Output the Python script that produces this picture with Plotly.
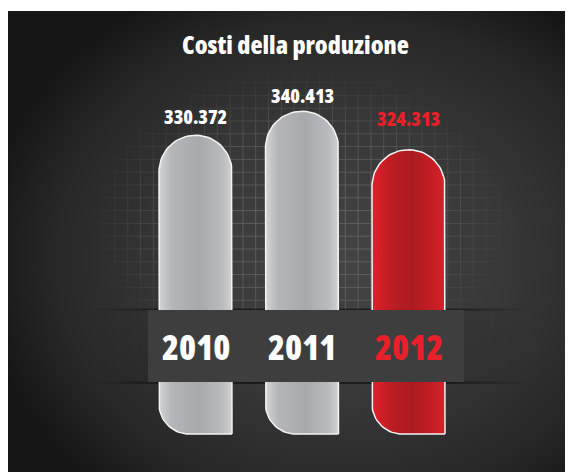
import base64
import numpy as np
import plotly.graph_objects as go

# ---------------- data ----------------
years = ["2010", "2011", "2012"]
costs = [330.372, 340.413, 324.313]
cost_labels = ["330.372", "340.413", "324.313"]

# ---------------- style ----------------
W, H = 573, 472
FONT = "Open Sans"
WEIGHT = 800
WHITE = "#ffffff"
RED = "#e8202a"
label_colors = [WHITE, WHITE, RED]
gray_grad = [[0, "#d3d4d6"], [0.18, "#b4b5b8"], [0.55, "#a8a9ac"], [0.86, "#b9babd"], [1, "#d0d1d3"]]
red_grad = [[0, "#e2202a"], [0.3, "#b91d23"], [0.55, "#ac1b20"], [0.86, "#c71e25"], [1, "#d8222a"]]
bar_grads = [gray_grad, gray_grad, red_grad]
label_lift = [19, 16, 31]       # px between bar top and label centre


def cond(t):
    return f"<span style='font-stretch:75%'>{t}</span>"


# axis scales (pixels per unit) and ranges (figure pixels)
PX_X = 106.5
X0 = -187.5 / PX_X
X1 = X0 + W / PX_X
PX_Y = 2.389
Y1 = 331.699 + 124 / PX_Y
Y0 = Y1 - H / PX_Y
BASE = Y1 - 426 / PX_Y          # bar baseline (pixel row 426)
HALF = 36.5 / PX_X              # half bar width
R_TOP_Y = 36.5 / PX_Y
R_BL = 30.0                     # bottom-left corner radius (px)

# ---------------- background (decoration) ----------------
svg = f"""<svg xmlns='http://www.w3.org/2000/svg' width='{W}' height='{H}' viewBox='0 0 {W} {H}'>
<defs>
<radialGradient id='bg' cx='332' cy='252' r='360' gradientUnits='userSpaceOnUse'
 gradientTransform='translate(332 252) scale(1 0.84) translate(-332 -252)'>
<stop offset='0' stop-color='#444444'/>
<stop offset='0.45' stop-color='#383838'/>
<stop offset='0.8' stop-color='#272727'/>
<stop offset='1' stop-color='#161616'/>
</radialGradient>
<pattern id='grid' x='4' y='10.1' width='12.8' height='12.8' patternUnits='userSpaceOnUse'>
<path d='M0 0.5 H12.8 M0.5 0 V12.8' stroke='#ffffff' stroke-opacity='0.18' stroke-width='1' fill='none'/>
</pattern>
<radialGradient id='fade' cx='294' cy='212' r='215' gradientUnits='userSpaceOnUse'
 gradientTransform='translate(294 212) scale(1 0.72) translate(-294 -212)'>
<stop offset='0' stop-color='#fff' stop-opacity='1'/>
<stop offset='0.6' stop-color='#fff' stop-opacity='0.75'/>
<stop offset='1' stop-color='#fff' stop-opacity='0'/>
</radialGradient>
<mask id='m'><rect x='0' y='0' width='{W}' height='302' fill='url(#fade)'/></mask>
<linearGradient id='sh' x1='82' x2='522' y1='0' y2='0' gradientUnits='userSpaceOnUse'>
<stop offset='0' stop-color='#000' stop-opacity='0'/>
<stop offset='0.2' stop-color='#000' stop-opacity='0.5'/>
<stop offset='0.8' stop-color='#000' stop-opacity='0.5'/>
<stop offset='1' stop-color='#000' stop-opacity='0'/>
</linearGradient>
<linearGradient id='sh2' x1='82' x2='522' y1='0' y2='0' gradientUnits='userSpaceOnUse'>
<stop offset='0' stop-color='#000' stop-opacity='0'/>
<stop offset='0.2' stop-color='#000' stop-opacity='0.1'/>
<stop offset='0.8' stop-color='#000' stop-opacity='0.1'/>
<stop offset='1' stop-color='#000' stop-opacity='0'/>
</linearGradient>
</defs>
<rect width='{W}' height='{H}' fill='#ffffff'/>
<rect x='0' y='3' width='{W}' height='{H-3}' fill='url(#bg)'/>
<rect x='0' y='3' width='{W}' height='{H-3}' fill='url(#grid)' mask='url(#m)'/>
<rect x='82' y='301' width='440' height='74' fill='url(#sh2)'/>
<rect x='82' y='300.5' width='440' height='2' fill='url(#sh)'/>
<rect x='82' y='373.5' width='440' height='2.5' fill='url(#sh)'/>
</svg>"""
bg_uri = "data:image/svg+xml;base64," + base64.b64encode(svg.encode()).decode()

fig = go.Figure()

# ---------------- bars (rounded capsules drawn on the data axes) ----------------
for i, (yr, v) in enumerate(zip(years, costs)):
    xc = i
    yc = v - R_TOP_Y
    t = np.linspace(0, np.pi, 40)
    top_x = xc + HALF * np.cos(t)
    top_y = yc + R_TOP_Y * np.sin(t)
    rbx = R_BL / PX_X
    rby = R_BL / PX_Y
    s = np.linspace(np.pi, 1.5 * np.pi, 20)
    bl_x = (xc - HALF + rbx) + rbx * np.cos(s)
    bl_y = (BASE + rby) + rby * np.sin(s)
    xs = np.concatenate([[xc + HALF], top_x, bl_x, [xc + HALF]])
    ys = np.concatenate([[BASE], top_y, bl_y, [BASE]])
    fig.add_trace(go.Scatter(
        x=xs, y=ys, mode="lines", fill="toself",
        fillgradient=dict(type="horizontal", colorscale=bar_grads[i]),
        line=dict(color="#f4f4f4", width=1.5),
        hoverinfo="skip", showlegend=False, name=yr,
    ))

# value labels
for i, (v, lab) in enumerate(zip(costs, cost_labels)):
    fig.add_annotation(
        x=i, y=v, text=cond(lab), showarrow=False, yanchor="middle", yshift=label_lift[i],
        font=dict(family=FONT, size=19.5, color=label_colors[i], weight=WEIGHT),
    )

# band with years
fig.add_shape(type="rect", xref="paper", yref="paper",
              x0=140 / W, x1=456 / W, y0=1 - 374 / H, y1=1 - 302 / H,
              fillcolor="#3e3e3e", line=dict(width=0), layer="above")
for i, yr in enumerate(years):
    fig.add_annotation(
        x=i, y=1 - 338 / H, yref="paper", text=cond(yr), showarrow=False, yanchor="middle",
        font=dict(family=FONT, size=34.5, color=label_colors[i], weight=WEIGHT),
    )

# title
fig.add_annotation(
    x=287 / W, y=1 - 36 / H, xref="paper", yref="paper", text=cond("Costi della produzione"),
    showarrow=False, yanchor="middle", font=dict(family=FONT, size=25, color=WHITE, weight=WEIGHT),
)

fig.update_layout(
    width=W, height=H, margin=dict(l=0, r=0, t=0, b=0),
    paper_bgcolor="#ffffff", plot_bgcolor="rgba(0,0,0,0)",
    images=[dict(source=bg_uri, xref="paper", yref="paper", x=0, y=1, sizex=1, sizey=1,
                 xanchor="left", yanchor="top", sizing="stretch", layer="below")],
    xaxis=dict(range=[X0, X1], visible=False, fixedrange=True),
    yaxis=dict(range=[Y0, Y1], visible=False, fixedrange=True),
    showlegend=False,
)

fig.write_html("out.html")
